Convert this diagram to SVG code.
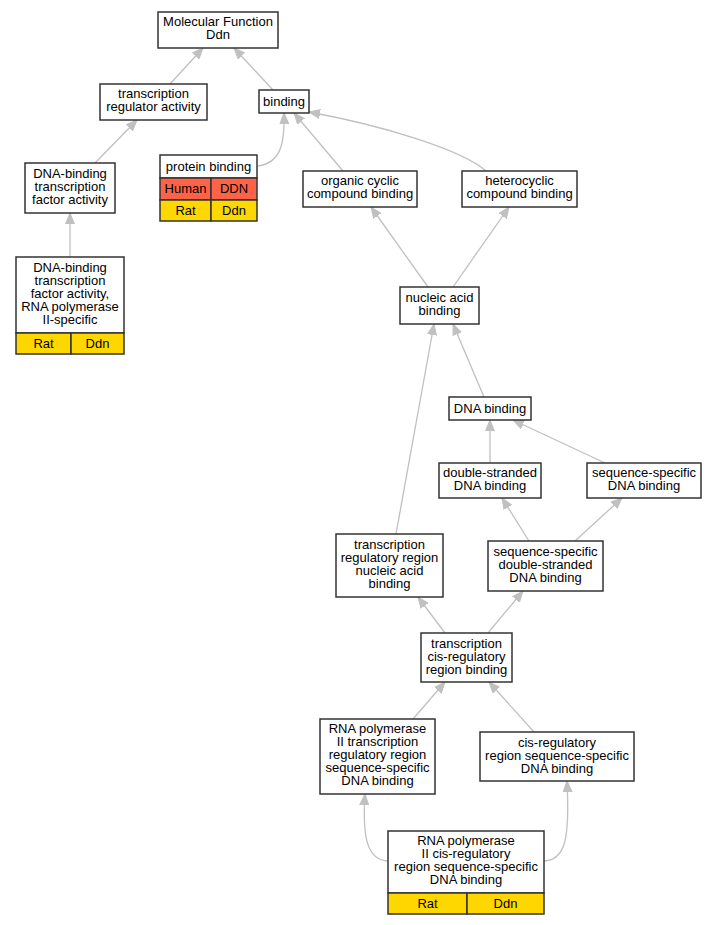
<svg xmlns="http://www.w3.org/2000/svg" width="717" height="925" viewBox="0 0 717 925">
<style>
.n rect{fill:#fff;stroke:#333;stroke-width:1.5}
.n rect.h{fill:#ff6347}
.n rect.r{fill:#ffd700}
text{font-family:"Liberation Sans",Arial,sans-serif;font-size:13px;fill:#000;text-anchor:middle}
#edges path{fill:none;stroke:#c0c0c0;stroke-width:1.3;marker-end:url(#a)}
</style>
<defs>
<marker id="a" markerUnits="userSpaceOnUse" markerWidth="12" markerHeight="10" refX="11" refY="4.5" orient="auto" viewBox="0 0 12 9">
<path d="M0,0 L11,4.5 L0,9 Z" fill="#c0c0c0" stroke="#c0c0c0"/>
</marker>
</defs>
<rect width="717" height="925" fill="#fff"/>
<g id="edges">
<path d="M170,84 L203,48"/>
<path d="M273,90 L234,48"/>
<path d="M95,163 L137,120"/>
<path d="M70,257 L70,213"/>
<path d="M258,166 C280,163 285,145 284,113"/>
<path d="M343,171 L294,113"/>
<path d="M486,171 C462,150 385,126 309,112"/>
<path d="M428,287 L371,207"/>
<path d="M453,287 L509,207"/>
<path d="M484,397 L453,324"/>
<path d="M396,534 L434,324"/>
<path d="M490,463 L490,420"/>
<path d="M605,463 L513,420"/>
<path d="M529,541 L502,498"/>
<path d="M575,541 L622,498"/>
<path d="M445,633 L418,597"/>
<path d="M488,633 L523,591"/>
<path d="M413,719 L445,682"/>
<path d="M534,732 L489,682"/>
<path d="M388,861 C368,860 362,840 365,794"/>
<path d="M544,861 C565,860 570,840 567,781"/>
</g>
<g id="n1" class="n"><rect x="158" y="12" width="120" height="36"/><text x="218" y="26">Molecular Function</text><text x="218" y="39">Ddn</text></g>
<g id="n2" class="n"><rect x="100" y="84" width="107" height="36"/><text x="153.5" y="98">transcription</text><text x="153.5" y="111">regulator activity</text></g>
<g id="n3" class="n"><rect x="259" y="90" width="50" height="23"/><text x="284" y="105.5">binding</text></g>
<g id="n4" class="n"><rect x="25" y="163" width="90" height="50"/><text x="70" y="178">DNA-binding</text><text x="70" y="191">transcription</text><text x="70" y="204">factor activity</text></g>
<g id="n5" class="n"><rect x="160" y="155" width="97" height="23"/><rect class="h" x="160" y="178" width="51" height="22"/><rect class="h" x="211" y="178" width="46" height="22"/><rect class="r" x="160" y="200" width="51" height="21"/><rect class="r" x="211" y="200" width="46" height="21"/><text x="208.5" y="170.5">protein binding</text><text x="185.5" y="193">Human</text><text x="234" y="193">DDN</text><text x="185.5" y="214.5">Rat</text><text x="234" y="214.5">Ddn</text></g>
<g id="n6" class="n"><rect x="303" y="171" width="114" height="36"/><text x="360" y="185">organic cyclic</text><text x="360" y="198">compound binding</text></g>
<g id="n7" class="n"><rect x="462" y="171" width="115" height="36"/><text x="519.5" y="185">heterocyclic</text><text x="519.5" y="198">compound binding</text></g>
<g id="n8" class="n"><rect x="16" y="257" width="108" height="76"/><rect class="r" x="16" y="333" width="55" height="21"/><rect class="r" x="71" y="333" width="53" height="21"/><text x="70" y="272">DNA-binding</text><text x="70" y="285">transcription</text><text x="70" y="298">factor activity,</text><text x="70" y="311">RNA polymerase</text><text x="70" y="324">II-specific</text><text x="43.5" y="347.5">Rat</text><text x="97.5" y="347.5">Ddn</text></g>
<g id="n9" class="n"><rect x="400" y="287" width="79" height="37"/><text x="439.5" y="302">nucleic acid</text><text x="439.5" y="315">binding</text></g>
<g id="n10" class="n"><rect x="449" y="397" width="82" height="23"/><text x="490" y="412.5">DNA binding</text></g>
<g id="n11" class="n"><rect x="439" y="463" width="102" height="35"/><text x="490" y="477">double-stranded</text><text x="490" y="490">DNA binding</text></g>
<g id="n12" class="n"><rect x="587" y="463" width="114" height="35"/><text x="644" y="477">sequence-specific</text><text x="644" y="490">DNA binding</text></g>
<g id="n13" class="n"><rect x="336" y="534" width="107" height="63"/><text x="389.5" y="549">transcription</text><text x="389.5" y="562">regulatory region</text><text x="389.5" y="575">nucleic acid</text><text x="389.5" y="588">binding</text></g>
<g id="n14" class="n"><rect x="488" y="541" width="115" height="50"/><text x="545.5" y="555.5">sequence-specific</text><text x="545.5" y="568.5">double-stranded</text><text x="545.5" y="581.5">DNA binding</text></g>
<g id="n15" class="n"><rect x="421" y="633" width="91" height="49"/><text x="466.5" y="647.5">transcription</text><text x="466.5" y="660.5">cis-regulatory</text><text x="466.5" y="673.5">region binding</text></g>
<g id="n16" class="n"><rect x="320" y="719" width="115" height="75"/><text x="377.5" y="733">RNA polymerase</text><text x="377.5" y="746">II transcription</text><text x="377.5" y="759">regulatory region</text><text x="377.5" y="772">sequence-specific</text><text x="377.5" y="785">DNA binding</text></g>
<g id="n17" class="n"><rect x="480" y="732" width="154" height="49"/><text x="557" y="746.5">cis-regulatory</text><text x="557" y="759.5">region sequence-specific</text><text x="557" y="772.5">DNA binding</text></g>
<g id="n18" class="n"><rect x="388" y="831" width="156" height="62"/><rect class="r" x="388" y="893" width="79" height="21"/><rect class="r" x="467" y="893" width="77" height="21"/><text x="466" y="845">RNA polymerase</text><text x="466" y="858">II cis-regulatory</text><text x="466" y="871">region sequence-specific</text><text x="466" y="884">DNA binding</text><text x="427.5" y="907.5">Rat</text><text x="505.5" y="907.5">Ddn</text></g>
</svg>
